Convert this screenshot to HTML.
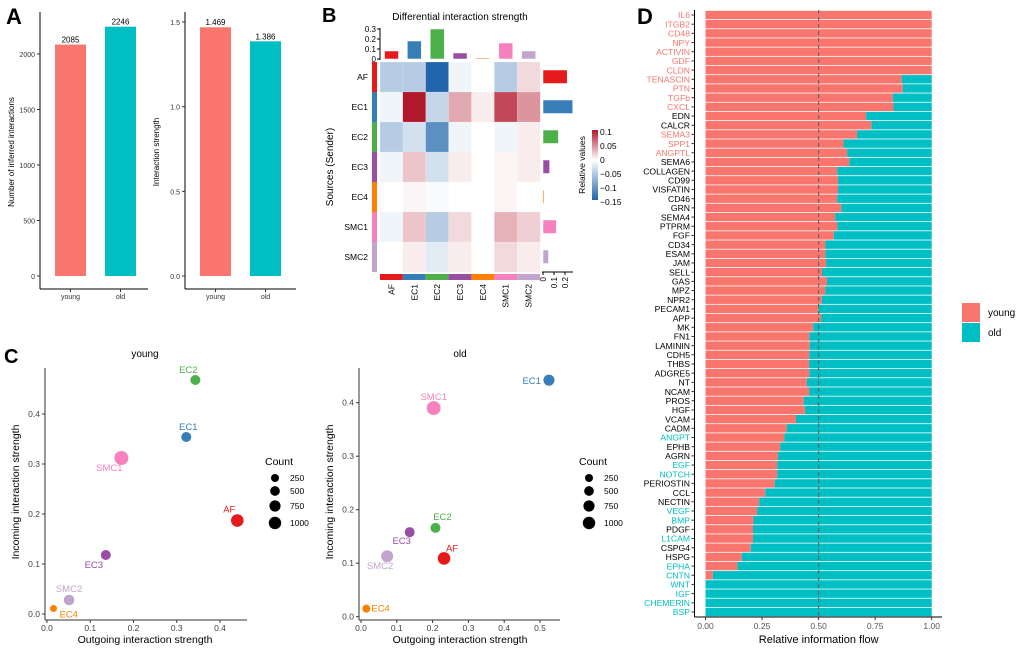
<!DOCTYPE html>
<html><head><meta charset="utf-8">
<style>
html,body{margin:0;padding:0;background:#fff;}
svg{display:block;font-family:"Liberation Sans",Arial,sans-serif;}
</style></head>
<body>
<svg id="fig" width="1020" height="651" viewBox="0 0 1020 651" xmlns="http://www.w3.org/2000/svg">
<g id="pA"></g>
<g id="pB"></g>
<g id="pC"></g>
<g id="pD"></g>
</svg>
<script>
// ---------- DATA ----------
const groups = ["young","old"];
const numInteractions = [2085, 2246];
const interactionStrength = [1.469, 1.386];
const cells = ["AF","EC1","EC2","EC3","EC4","SMC1","SMC2"];
const heatValues = [
 [-0.05,-0.05,-0.15,-0.01,0,-0.05,0.02],
 [-0.01,0.12,-0.04,0.045,0.01,0.095,0.055],
 [-0.05,-0.03,-0.11,-0.01,0,-0.01,0.01],
 [-0.01,0.03,-0.03,0.01,0,0.005,0.01],
 [0,0.005,-0.005,0,0,0.005,0],
 [-0.01,0.03,-0.05,0.02,0,0.04,0.025],
 [0,0.01,-0.02,0.01,0,0.02,0.01]
];
const colSums = [0.08,0.18,0.30,0.06,0.01,0.16,0.08];
const rowSums = [0.22,0.27,0.14,0.06,0.01,0.12,0.05];
const youngOut = [0.44,0.322,0.343,0.136,0.015,0.172,0.051];
const youngIn  = [0.187,0.354,0.468,0.118,0.011,0.312,0.028];
const youngCount = [850,440,440,440,75,1110,520];
const oldOut = [0.232,0.525,0.208,0.136,0.015,0.203,0.073];
const oldIn  = [0.109,0.442,0.166,0.158,0.015,0.39,0.113];
const oldCount = [850,600,440,440,190,1110,760];
const countLegend = [250,500,750,1000];
const pathways = ["IL6","ITGB2","CD48","NPY","ACTIVIN","GDF","CLDN","TENASCIN","PTN","TGFb","CXCL","EDN","CALCR","SEMA3","SPP1","ANGPTL","SEMA6","COLLAGEN","CD99","VISFATIN","CD46","GRN","SEMA4","PTPRM","FGF","CD34","ESAM","JAM","SELL","GAS","MPZ","NPR2","PECAM1","APP","MK","FN1","LAMININ","CDH5","THBS","ADGRE5","NT","NCAM","PROS","HGF","VCAM","CADM","ANGPT","EPHB","AGRN","EGF","NOTCH","PERIOSTIN","CCL","NECTIN","VEGF","BMP","PDGF","L1CAM","CSPG4","HSPG","EPHA","CNTN","WNT","IGF","CHEMERIN","BSP"];
const youngFlow = [1,1,1,1,1,1,1,0.867,0.872,0.828,0.831,0.71,0.733,0.67,0.61,0.626,0.636,0.582,0.586,0.586,0.582,0.6,0.573,0.583,0.567,0.53,0.53,0.533,0.515,0.537,0.529,0.514,0.5,0.511,0.476,0.459,0.461,0.459,0.458,0.459,0.448,0.458,0.434,0.439,0.4,0.359,0.348,0.33,0.32,0.317,0.317,0.306,0.264,0.237,0.228,0.212,0.21,0.21,0.2,0.16,0.141,0.032,0,0,0,0];
const labelGroup = ["y","y","y","y","y","y","y","y","y","y","y","n","n","y","y","y","n","n","n","n","n","n","n","n","n","n","n","n","n","n","n","n","n","n","n","n","n","n","n","n","n","n","n","n","n","n","o","n","n","o","o","n","n","n","o","o","n","o","n","n","o","o","o","o","o","o"];
const ticksA1 = [0,500,1000,1500,2000];
const ticksA2 = [0,0.5,1.0,1.5];
const ticksTop = [0,0.1,0.2,0.3];
const ticksRight = [0,0.1,0.2];
const ticksCbar = [0.1,0.05,0,-0.05,-0.1,-0.15];
const ticksCY = [0,0.1,0.2,0.3,0.4];
const ticksCXy = [0,0.1,0.2,0.3,0.4];
const ticksCXo = [0,0.1,0.2,0.3,0.4,0.5];
const ticksD = [0,0.25,0.5,0.75,1];

// ---------- HELPERS ----------
const NS="http://www.w3.org/2000/svg";
const YOUNG="#F8766D", OLD="#00BFC4";
const cellColors=["#E41A1C","#377EB8","#4DAF4A","#984EA3","#FF7F00","#F781BF","#C2A5CF"];
function mk(parent,tag,attrs,text){const e=document.createElementNS(NS,tag);for(const k in attrs)e.setAttribute(k,attrs[k]);if(text!==undefined)e.textContent=text;parent.appendChild(e);return e;}
function fmt(v,d){return v.toFixed(d);}
const A=document.getElementById('pA'),B=document.getElementById('pB'),C=document.getElementById('pC'),D=document.getElementById('pD');

// ---------- PANEL A ----------
let t=mk(A,'text',{x:6,y:24,'font-size':22,'font-weight':'bold'},'A');

function barPanel(g,x0,xEnd,vals,maxv,topPx,ticks,dec,title,barX,name){
  const y0=276; const ys=v=>y0-(v/maxv)*(y0-topPx);
  let l=mk(g,'line',{x1:x0,y1:12,x2:x0,y2:289,stroke:'#000','stroke-width':1});
  
  l=mk(g,'line',{x1:x0,y1:289,x2:xEnd,y2:289,stroke:'#000','stroke-width':1});
  
  ticks.forEach(v=>{mk(g,'line',{x1:x0-3,x2:x0,y1:ys(v),y2:ys(v),stroke:'#333'});
    const tt=mk(g,'text',{x:x0-5,y:ys(v)+3,'font-size':7,'text-anchor':'end',fill:'#333'},dec===0?String(v):fmt(v,1));
    });
  vals.forEach((v,i)=>{const bx=barX[i];
    const r=mk(g,'rect',{x:bx,y:ys(v),width:31,height:y0-ys(v),fill:i?OLD:YOUNG});
    
    const vt=mk(g,'text',{x:bx+15.5,y:ys(v)-2,'font-size':8,'text-anchor':'middle'},dec===0?String(v):fmt(v,3));
    
    mk(g,'line',{x1:bx+15.5,x2:bx+15.5,y1:289,y2:292,stroke:'#333'});
    const xt=mk(g,'text',{x:bx+15.5,y:299,'font-size':7,'text-anchor':'middle',fill:'#333'},groups[i]);
    });
  const yt=mk(g,'text',{x:0,y:0,'font-size':8,'text-anchor':'middle',transform:`translate(${x0-26},152) rotate(-90)`},title);
  
}
barPanel(A,40,148,numInteractions,2000,54,ticksA1,0,'Number of inferred interactions',[55,105],'count-chart');
barPanel(A,185,296,interactionStrength,1.5,22,ticksA2,1,'Interaction strength',[200,250],'strength-chart');

// ---------- PANEL B ----------
t=mk(B,'text',{x:322,y:22,'font-size':20,'font-weight':'bold'},'B');

t=mk(B,'text',{x:460,y:20,'font-size':10,'text-anchor':'middle'},'Differential interaction strength');

const hx=380,hy=62,cw=160/7,ch=210/7;
function heatColor(v){let c0=[255,255,255],c1;let f;
  if(v>=0){c1=[178,24,43];f=Math.min(1,v/0.12);}else{c1=[33,102,172];f=Math.min(1,-v/0.15);}
  const c=c0.map((a,i)=>Math.round(a+(c1[i]-a)*f));return `rgb(${c[0]},${c[1]},${c[2]})`;}
heatValues.forEach((row,r)=>row.forEach((v,c)=>{
  const e=mk(B,'rect',{x:hx+c*cw,y:hy+r*ch,width:cw+0.3,height:ch+0.3,fill:heatColor(v),stroke:'#fff','stroke-width':0.3,'stroke-opacity':0.5});
  }));
cells.forEach((n,i)=>{
  let e=mk(B,'rect',{x:372,y:hy+i*ch,width:5,height:ch,fill:cellColors[i]});
  
  e=mk(B,'rect',{x:hx+i*cw,y:274,width:cw,height:6,fill:cellColors[i]});
  
  e=mk(B,'text',{x:368,y:hy+i*ch+ch/2+3,'font-size':8.5,'text-anchor':'end'},n);
  
  e=mk(B,'text',{x:0,y:0,'font-size':8.5,'text-anchor':'end',transform:`translate(${hx+i*cw+cw/2+3},284) rotate(-90)`},n);
  
});
const tyS=v=>59-(v/0.3)*30;
mk(B,'line',{x1:380,x2:380,y1:28,y2:60,stroke:'#000'});
ticksTop.forEach(v=>{mk(B,'line',{x1:377,x2:380,y1:tyS(v),y2:tyS(v),stroke:'#000'});
  const e=mk(B,'text',{x:376,y:tyS(v)+3,'font-size':8,'text-anchor':'end'},v===0?'0':String(v));
  });
colSums.forEach((v,i)=>{const e=mk(B,'rect',{x:hx+i*cw+4.5,y:tyS(v),width:14,height:59-tyS(v),fill:cellColors[i],stroke:'#fff','stroke-width':0.5});
  });
const rxS=v=>543+v*110;
mk(B,'line',{x1:542,x2:573,y1:272,y2:272,stroke:'#000'});
ticksRight.forEach(v=>{mk(B,'line',{x1:rxS(v),x2:rxS(v),y1:272,y2:275,stroke:'#000'});
  const e=mk(B,'text',{x:0,y:0,'font-size':8,'text-anchor':'end',transform:`translate(${rxS(v)+3},277) rotate(-90)`},v===0?'0':String(v));
  });
rowSums.forEach((v,i)=>{const e=mk(B,'rect',{x:543,y:hy+i*ch+8,width:v*110,height:13.5,fill:cellColors[i],stroke:'#fff','stroke-width':0.5});
  });
t=mk(B,'text',{x:0,y:0,'font-size':10,'text-anchor':'middle',transform:'translate(333,167) rotate(-90)'},'Sources (Sender)');

const defs=mk(document.getElementById('fig'),'defs',{});
const grad=mk(defs,'linearGradient',{id:'cbar',x1:0,y1:0,x2:0,y2:1});
mk(grad,'stop',{offset:'0%','stop-color':'#B2182B'});mk(grad,'stop',{offset:'43%','stop-color':'#FFFFFF'});mk(grad,'stop',{offset:'100%','stop-color':'#2166AC'});
t=mk(B,'rect',{x:592,y:130,width:6,height:70,fill:'url(#cbar)'});

const cbY=v=>160-v*(28/0.1);
ticksCbar.forEach(v=>{const e=mk(B,'text',{x:600,y:cbY(v)+3,'font-size':8.5},v===0?'0':(v<0?'\u2212'+String(-v):String(v)));
  });
t=mk(B,'text',{x:0,y:0,'font-size':8.5,'text-anchor':'middle',transform:'translate(585,165) rotate(-90)'},'Relative values');


// ---------- PANEL C ----------
t=mk(C,'text',{x:4,y:363,'font-size':20,'font-weight':'bold'},'C');

const rad=c=>Math.sqrt(9.6+0.0353*c);
function scatter(g,cfg){
  const xs=v=>cfg.x0+v*cfg.kx, ys=v=>cfg.y0-v*cfg.ky;
  let e=mk(g,'text',{x:cfg.titleX,y:357,'font-size':10,'text-anchor':'middle'},cfg.title);
  
  mk(g,'line',{x1:cfg.ax,x2:cfg.ax,y1:368,y2:620,stroke:'#333'});
  mk(g,'line',{x1:cfg.ax,x2:cfg.xEnd,y1:620,y2:620,stroke:'#333'});
  cfg.yt.forEach(v=>{mk(g,'line',{x1:cfg.ax-3,x2:cfg.ax,y1:ys(v),y2:ys(v),stroke:'#333'});
    const q=mk(g,'text',{x:cfg.ax-5,y:ys(v)+3,'font-size':8.5,'text-anchor':'end',fill:'#444'},fmt(v,1));
    });
  cfg.xt.forEach(v=>{mk(g,'line',{x1:xs(v),x2:xs(v),y1:620,y2:623,stroke:'#333'});
    const q=mk(g,'text',{x:xs(v),y:631,'font-size':8.5,'text-anchor':'middle',fill:'#444'},fmt(v,1));
    });
  e=mk(g,'text',{x:cfg.titleX,y:643,'font-size':10.5,'text-anchor':'middle'},'Outgoing interaction strength');
  
  e=mk(g,'text',{x:0,y:0,'font-size':10.5,'text-anchor':'middle',transform:`translate(${cfg.ax-26},492) rotate(-90)`},'Incoming interaction strength');
  
  cells.forEach((n,i)=>{const cx=xs(cfg.out[i]),cy=ys(cfg.inn[i]);
    const p=mk(g,'circle',{cx:cx,cy:cy,r:rad(cfg.cnt[i]),fill:cellColors[i]});
    
    const o=cfg.lab[i];
    const q=mk(g,'text',{x:cx+o[0],y:cy+o[1],'font-size':9.5,'text-anchor':o[2],fill:cellColors[i]},n);
    });
  e=mk(g,'text',{x:cfg.lx,y:465,'font-size':10.5},'Count');
  
  const ly=[478,491,506,523];
  countLegend.forEach((c,i)=>{const p=mk(g,'circle',{cx:cfg.lx+10,cy:ly[i],r:rad(c)*0.93,fill:'#000'});
    
    const q=mk(g,'text',{x:cfg.lx+25,y:ly[i]+3,'font-size':8.5},String(c));
    });
}
scatter(C,{name:'young-scatter',title:'young',titleX:145,x0:47,kx:432.5,y0:614,ky:500,ax:45,xEnd:247,yt:ticksCY,xt:ticksCXy,
  out:youngOut,inn:youngIn,cnt:youngCount,lx:265,
  lab:[[-8,-8,'middle'],[2,-7,'middle'],[-7,-7,'middle'],[-12,13,'middle'],[6,9,'start'],[-12,13,'middle'],[0,-8,'middle']]});
scatter(C,{name:'old-scatter',title:'old',titleX:460,x0:361,kx:358,y0:616.7,ky:535,ax:359,xEnd:560,yt:ticksCY,xt:ticksCXo,
  out:oldOut,inn:oldIn,cnt:oldCount,lx:579,
  lab:[[2,-7,'start'],[-8,4,'end'],[7,-8,'middle'],[-8,12,'middle'],[5,3,'start'],[0,-8,'middle'],[-7,13,'middle']]});

// ---------- PANEL D ----------
t=mk(D,'text',{x:637,y:24,'font-size':22,'font-weight':'bold'},'D');

const dx=v=>705.5+v*226.2, rowY=i=>15+i*(597/65);
pathways.forEach((p,i)=>{const y=rowY(i),yf=youngFlow[i];
  let e=mk(D,'rect',{x:dx(0),y:y-4.2,width:yf*226.2,height:8.4,fill:YOUNG});
  
  e=mk(D,'rect',{x:dx(yf),y:y-4.2,width:(1-yf)*226.2,height:8.4,fill:OLD});
  
  mk(D,'line',{x1:691.5,x2:694.5,y1:y,y2:y,stroke:'#333'});
  const col=labelGroup[i]==='y'?YOUNG:(labelGroup[i]==='o'?OLD:'#000');
  e=mk(D,'text',{x:690,y:y+3.2,'font-size':8.6,'text-anchor':'end',fill:col},p);
  });
t=mk(D,'line',{x1:dx(0.5),x2:dx(0.5),y1:10,y2:617,stroke:'#666','stroke-width':1.2,'stroke-dasharray':'4,3'});

mk(D,'line',{x1:694.5,x2:694.5,y1:10,y2:617,stroke:'#000'});
mk(D,'line',{x1:694.5,x2:942,y1:617,y2:617,stroke:'#000'});
ticksD.forEach(v=>{mk(D,'line',{x1:dx(v),x2:dx(v),y1:617,y2:620,stroke:'#333'});
  const e=mk(D,'text',{x:dx(v),y:629,'font-size':8.5,'text-anchor':'middle',fill:'#555'},fmt(v,2));
  });
t=mk(D,'text',{x:818.7,y:643,'font-size':11,'text-anchor':'middle'},'Relative information flow');

t=mk(D,'rect',{x:962,y:303,width:18,height:19,fill:YOUNG});

t=mk(D,'rect',{x:962,y:323,width:18,height:19,fill:OLD});

t=mk(D,'text',{x:988,y:316,'font-size':10},'young');

t=mk(D,'text',{x:988,y:336,'font-size':10},'old');

</script>
</body></html>
